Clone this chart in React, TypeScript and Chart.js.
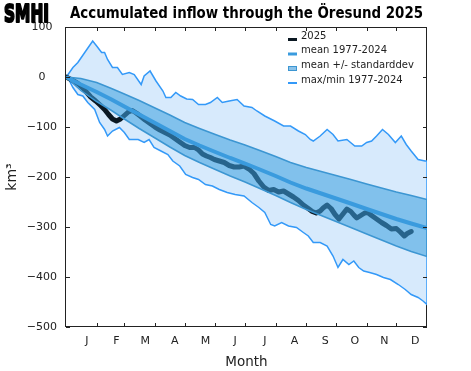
import React, { useEffect, useRef } from 'react';
import { Chart, registerables } from 'chart.js';

Chart.register(...registerables);

const FONT = '"DejaVu Sans", "Liberation Sans", sans-serif';
const INK = '#222222';

// ---- axis / label data ----
const monthLetters = ['J', 'F', 'M', 'A', 'M', 'J', 'J', 'A', 'S', 'O', 'N', 'D'];
const monthLabelDays = [21, 51, 80, 110, 141, 171, 201, 231, 262, 292, 322, 353];
const monthStartDays = [31, 59, 90, 120, 151, 181, 212, 243, 273, 304, 334];
const yTickValues = [100, 0, -100, -200, -300, -400, -500];
const titleText = 'Accumulated inflow through the Öresund 2025';
const logoText = 'SMHI';
const legendLabels = ['2025', 'mean 1977-2024', 'mean +/- standarddev', 'max/min 1977-2024'];

// ---- max of 1977-2024 ----
const maxDays = [0, 1, 7, 12, 20, 27, 31, 36, 39, 42, 47, 52, 57, 64, 69, 76, 79, 85, 91, 98, 101, 106, 111, 116, 122, 128, 134, 141, 146, 153, 158, 165, 173, 180, 188, 193, 201, 211, 220, 227, 235, 242, 247, 250, 257, 264, 270, 275, 284, 292, 299, 304, 309, 314, 320, 326, 333, 339, 344, 349, 356, 363, 365];
const maxVals = [0, 2, 19, 29, 52, 72, 62, 49, 49, 35, 19, 19, 5, 9, 5, -15, 2, 12, -8, -28, -41, -41, -31, -38, -44, -45, -55, -55, -51, -41, -51, -48, -45, -58, -61, -68, -78, -88, -98, -98, -108, -115, -125, -128, -118, -105, -115, -128, -125, -138, -138, -131, -128, -118, -105, -115, -131, -118, -135, -148, -165, -168, -168];

// ---- min of 1977-2024 ----
const minDays = [0, 1, 7, 12, 17, 22, 29, 34, 39, 42, 47, 54, 59, 64, 73, 79, 84, 89, 96, 103, 108, 115, 121, 128, 134, 141, 148, 155, 163, 171, 180, 188, 195, 201, 207, 211, 218, 225, 233, 240, 245, 250, 257, 264, 270, 275, 280, 286, 291, 296, 301, 307, 314, 321, 328, 336, 343, 349, 356, 361, 365];
const minVals = [0, 2, -21, -35, -38, -51, -65, -91, -105, -118, -108, -101, -111, -125, -125, -131, -125, -141, -148, -155, -168, -178, -195, -201, -205, -215, -218, -225, -231, -235, -238, -251, -261, -271, -295, -298, -291, -298, -301, -311, -318, -331, -331, -338, -358, -381, -365, -375, -368, -381, -388, -391, -395, -401, -405, -415, -425, -435, -441, -448, -455];

// ---- mean and standard deviation 1977-2024 ----
const statDays = [0, 15, 31, 46, 59, 74, 90, 105, 120, 135, 151, 166, 181, 196, 212, 227, 243, 258, 273, 288, 304, 319, 334, 349, 365];
const meanVals = [0, -15, -30, -45, -59, -75, -92, -108, -124, -137, -150, -162, -173, -185, -198, -211, -223, -233, -243, -253, -264, -274, -284, -293, -302];
const stdVals = [0, 12, 19, 22, 25, 28, 30, 32, 33, 34, 35, 36, 37, 38, 39, 40, 42, 44, 46, 48, 50, 52, 54, 56, 57];

// ---- 2025 ----
const obsDays = [0, 6, 12, 18, 25, 30, 35, 39, 43, 47, 51, 55, 59, 63, 67, 71, 75, 80, 85, 90, 95, 100, 105, 110, 115, 120, 125, 130, 134, 138, 142, 146, 150, 155, 160, 165, 170, 175, 180, 185, 190, 195, 200, 205, 210, 215, 220, 225, 230, 235, 240, 245, 249, 253, 257, 260, 264, 268, 272, 276, 280, 284, 288, 291, 294, 298, 302, 305, 309, 314, 319, 324, 329, 334, 338, 342, 345, 349];
const obsVals = [0, -6, -13, -24, -40, -48, -57, -65, -75, -84, -88, -84, -77, -70, -67, -72, -78, -86, -93, -100, -106, -111, -116, -123, -130, -137, -141, -141, -146, -154, -158, -161, -165, -168, -171, -177, -180, -180, -178, -184, -193, -208, -220, -227, -225, -230, -228, -234, -240, -247, -256, -263, -269, -272, -268, -262, -256, -263, -275, -284, -274, -264, -269, -276, -282, -277, -272, -271, -277, -284, -291, -297, -304, -303, -310, -318, -313, -309];

// ---- colours ----
const C_ENV_FILL = '#d7eafc';
const C_ENV_LINE = 'rgb(51,153,248)';
const C_STD_FILL = 'rgba(62,160,223,0.56)';
const C_STD_LINE = 'rgb(60,150,210)';
const C_MEAN = 'rgb(58,155,222)';
const C_OBS = '#0b1822';

const pts = (d: number[], v: number[]) => d.map((x, i) => ({ x, y: v[i] }));

const decorPlugin = {
  id: 'decor',
  beforeDatasetsDraw(chart: any) {
    const { ctx, chartArea: a } = chart;
    ctx.save();
    ctx.strokeStyle = INK;
    ctx.lineWidth = 1;
    ctx.strokeRect(Math.round(a.left) - 0.5, Math.round(a.top) + 0.5, Math.round(a.right - a.left), Math.round(a.bottom - a.top) - 1);
    ctx.restore();
  },
  afterDraw(chart: any) {
    const { ctx, chartArea: a, scales } = chart;
    const x = scales.x;
    const y = scales.y;
    ctx.save();
    ctx.strokeStyle = INK;
    ctx.lineWidth = 1;
    ctx.beginPath();
    const tl = 4;
    for (const d of monthStartDays) {
      const px = Math.round(x.getPixelForValue(d)) + 0.5;
      ctx.moveTo(px, a.bottom);
      ctx.lineTo(px, a.bottom - tl);
      ctx.moveTo(px, a.top);
      ctx.lineTo(px, a.top + tl);
    }
    for (const v of yTickValues) {
      const py = Math.round(y.getPixelForValue(v)) + 0.5;
      ctx.moveTo(a.left, py);
      ctx.lineTo(a.left + tl, py);
      ctx.moveTo(a.right, py);
      ctx.lineTo(a.right - tl, py);
    }
    ctx.stroke();

    // title (fitted to the reference width)
    ctx.save();
    ctx.fillStyle = '#000';
    ctx.font = `bold 15px ${FONT}`;
    const tw = ctx.measureText(titleText).width;
    ctx.translate(70, 14.5);
    ctx.scale(Math.min(1, 353 / tw), 1);
    ctx.textAlign = 'left';
    ctx.textBaseline = 'middle';
    ctx.fillText(titleText, 0, 0);
    ctx.restore();

    // logo
    ctx.save();
    ctx.fillStyle = '#000';
    ctx.font = `bold 25px ${FONT}`;
    const lw = ctx.measureText(logoText).width;
    ctx.translate(4, 21.5);
    ctx.scale(45 / lw, 1);
    ctx.textBaseline = 'alphabetic';
    ctx.lineJoin = 'round';
    ctx.lineWidth = 2.2;
    ctx.strokeStyle = '#000';
    ctx.fillText(logoText, 0, 0);
    ctx.strokeText(logoText, 0, 0);
    ctx.restore();

    // legend
    const textY = [36.5, 50.5, 65, 80];
    const symX = 288;
    const symW = 9;
    ctx.font = `10px ${FONT}`;
    ctx.fillStyle = INK;
    ctx.textAlign = 'left';
    ctx.textBaseline = 'middle';
    legendLabels.forEach((t, i) => ctx.fillText(t, 301, textY[i]));
    ctx.fillStyle = C_OBS;
    ctx.fillRect(symX, textY[0] + 1.5, symW, 3);
    ctx.fillStyle = C_MEAN;
    ctx.fillRect(symX, textY[1] + 2, symW, 3);
    ctx.fillStyle = '#8cc3ea';
    ctx.fillRect(symX, textY[2] + 1.5, symW, 4);
    ctx.strokeStyle = C_STD_LINE;
    ctx.lineWidth = 1;
    ctx.strokeRect(symX + 0.5, textY[2] + 1.5, symW - 1, 4);
    ctx.fillStyle = C_ENV_LINE;
    ctx.fillRect(symX, textY[3] + 2, symW, 2);
    ctx.restore();
  },
};

export default function App() {
  const ref = useRef<HTMLCanvasElement>(null);
  useEffect(() => {
    const canvas = ref.current;
    if (!canvas) return;
    const envelope = [...pts(maxDays, maxVals), ...pts(minDays, minVals).reverse()];
    const stdUpper = statDays.map((d, i) => ({ x: d, y: meanVals[i] + stdVals[i] }));
    const stdLower = statDays.map((d, i) => ({ x: d, y: meanVals[i] - stdVals[i] }));
    const stdBand = [...stdUpper, ...stdLower.reverse()];

    const chart = new Chart(canvas, {
      type: 'line',
      data: {
        datasets: [
          {
            label: 'mean 1977-2024',
            data: pts(statDays, meanVals),
            borderColor: C_MEAN,
            borderWidth: 4,
            pointRadius: 0,
            fill: false,
            tension: 0,
          },
          {
            label: 'mean +/- standarddev',
            data: stdBand,
            borderColor: C_STD_LINE,
            backgroundColor: C_STD_FILL,
            borderWidth: 1.5,
            pointRadius: 0,
            fill: 'shape',
            tension: 0,
          },
          {
            label: '2025',
            data: pts(obsDays, obsVals),
            borderColor: C_OBS,
            borderWidth: 5,
            borderJoinStyle: 'round',
            borderCapStyle: 'round',
            pointRadius: 0,
            fill: false,
            tension: 0,
          },
          {
            label: 'max/min 1977-2024',
            data: envelope,
            borderColor: C_ENV_LINE,
            backgroundColor: C_ENV_FILL,
            borderWidth: 1.5,
            pointRadius: 0,
            fill: 'shape',
            tension: 0,
          },
        ] as any,
      },
      options: {
        responsive: false,
        animation: false,
        devicePixelRatio: 1,
        layout: { padding: { top: 27, right: 44, left: 0, bottom: 0 } },
        plugins: {
          legend: { display: false },
          tooltip: { enabled: false },
          title: { display: false },
        },
        scales: {
          x: {
            type: 'linear',
            min: 0,
            max: 365,
            grid: { display: false, drawTicks: false },
            border: { display: false },
            afterBuildTicks: (s: any) => {
              s.ticks = monthLabelDays.map((v) => ({ value: v }));
            },
            afterFit: (s: any) => {
              s.height = 44;
            },
            ticks: {
              autoSkip: false,
              maxRotation: 0,
              padding: 8,
              color: INK,
              font: { family: FONT, size: 11 },
              callback: (_v: any, i: number) => monthLetters[i],
            },
            title: {
              display: true,
              text: 'Month',
              color: INK,
              font: { family: FONT, size: 13.5 },
              padding: { top: 0, bottom: 0 },
            },
          },
          y: {
            type: 'linear',
            min: -500,
            max: 100,
            grid: { display: false, drawTicks: false },
            border: { display: false },
            afterBuildTicks: (s: any) => {
              s.ticks = yTickValues.map((v) => ({ value: v }));
            },
            afterFit: (s: any) => {
              s.width = 66;
            },
            ticks: {
              crossAlign: 'center',
              padding: 9,
              color: INK,
              font: { family: FONT, size: 11 },
              callback: (v: any) => (v < 0 ? '\u2212' + Math.abs(v) : String(v)),
            },
            title: {
              display: true,
              text: 'km\u00b3',
              color: INK,
              font: { family: FONT, size: 14 },
              padding: { top: 4, bottom: 0 },
            },
          },
        },
      } as any,
      plugins: [decorPlugin],
    });
    return () => chart.destroy();
  }, []);

  return (
    <div style={{ position: 'absolute', left: 0, top: 0, width: 471, height: 371, background: '#fff' }}>
      <canvas ref={ref} width={471} height={371} style={{ display: 'block', width: 471, height: 371 }} />
    </div>
  );
}
